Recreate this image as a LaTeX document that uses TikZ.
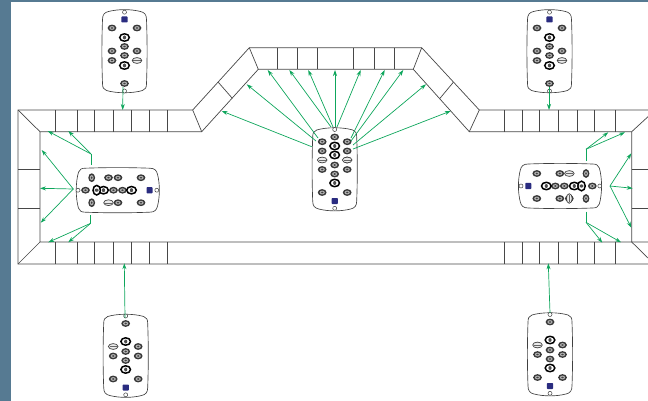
\documentclass[tikz,border=0pt]{standalone}
\usepackage{xcolor}
\usetikzlibrary{arrows.meta}
\definecolor{sidebar}{RGB}{86,122,146}
\definecolor{raygreen}{RGB}{14,166,92}
\definecolor{lcd}{RGB}{42,44,128}
\tikzset{
    wall/.style={draw=black!72, line width=0.7pt},
    ray/.style={draw=raygreen, line width=0.7pt, -{Stealth[length=6pt,width=4pt]}},
    stub/.style={draw=raygreen, line width=0.7pt},
    case/.style={draw=black!75, line width=0.65pt, fill=white},
    % one key of a remote, with its lighter middle
    keyone/.pic={
        \fill[black!78] (0,0) ellipse [x radius=4.4, y radius=3.4];
        \fill[black!30] (0,0) ellipse [x radius=2.6, y radius=1.9];
        \fill[black!75] (0,0) ellipse [x radius=1.3, y radius=0.9];
    },
    keybig/.pic={
        \draw[black, line width=1.5pt, fill=white] (0,0) ellipse [x radius=4.8, y radius=3.7];
        \fill[black!70] (0,0) ellipse [x radius=1.6, y radius=2];
    },
    keyflat/.pic={
        \draw[black!75, line width=0.7pt, fill=black!8] (0,0) ellipse [x radius=4.8, y radius=2.9];
        \draw[black!60, line width=0.4pt] (-3.6,0) -- (3.6,0);
    },
    remote/.pic={
        \draw[case] (-18,-39) .. controls (-8,-42) and (8,-42) .. (18,-39)
            .. controls (21,-38) and (22,-36) .. (22,-32)
            .. controls (22.8,-10) and (22.8,10) .. (22,32)
            .. controls (22,37) and (20,39) .. (16,40)
            .. controls (6,42.5) and (-6,42.5) .. (-16,40)
            .. controls (-20,39) and (-22,37) .. (-22,32)
            .. controls (-22.8,10) and (-22.8,-10) .. (-22,-32)
            .. controls (-22,-36) and (-21,-38) .. (-18,-39) -- cycle;
        \foreach \ky in {-32,-4,5} \pic at (0,\ky) {keyone};
        \foreach \ky in {-14,14} \pic at (0,\ky) {keybig};
        \foreach \kx/\ky in {12.5/-9,-12.5/0.5,12.5/0.5,-12.5/23.5,12.5/23.5} \pic at (\kx,\ky) {keyone};
        \pic at (-12.5,-9) {keyflat};
        \fill[lcd, rounded corners=0.8pt] (-3.2,29) rectangle (3.2,35);
        \draw[black!75, fill=white, line width=0.5pt] (0,-39.5) circle (2);
        \draw[black!75, fill=white, line width=0.5pt] (0,39.3) circle (2);
    },
}

\begin{document}
\begin{tikzpicture}[x=1pt, y=-1pt]
    \useasboundingbox (0,0) rectangle (648,401);
    \fill[sidebar] (0,0) rectangle (648,2.5);
    \fill[sidebar] (0,0) rectangle (11,401);

    % room outline
    \draw[wall] (648,110) -- (479.3,110) -- (421.7,47.7) -- (249.3,47.7) -- (192.7,110) -- (18,110) -- (18,264) -- (648,264);
    \draw[wall] (648,242) -- (40,242) -- (40,131.7) -- (201.7,131.7) -- (258.3,69.3) -- (413.3,69.3) -- (469.3,131.7) -- (631.7,131.7) -- (631.7,242);
    \draw[wall] (18,110) -- (40,131.7);
    \draw[wall] (18,264) -- (40,242);
    \draw[wall] (631.7,131.7) -- (648,116.7);
    \draw[wall] (631.7,242) -- (648,258);
    \draw[wall] (192.7,110) -- (201.7,131.7);
    \draw[wall] (249.3,47.7) -- (258.3,69.3);
    \draw[wall] (421.7,47.7) -- (413.3,69.3);
    \draw[wall] (479.3,110) -- (469.3,131.7);
    \draw[wall] (218.3,82.3) -- (232.3,98.3);
    \draw[wall] (453.3,82.3) -- (440,98.3);

    % wall panels
    \foreach \tx in {55.7,77,94.3,113.3,131.3,149.3,167} {
        \draw[wall] (\tx,110) -- (\tx,131.7);
        \draw[wall] (\tx,242) -- (\tx,264);
    }
    \foreach \tx in {504.3,522,539.7,558.3,577,594.3,615.7} {
        \draw[wall] (\tx,110) -- (\tx,131.7);
        \draw[wall] (\tx,242) -- (\tx,264);
    }
    \foreach \tx in {277.3,297.7,317.7,353.7,374.3,394.3}
        \draw[wall] (\tx,47.7) -- (\tx,69.3);
    \foreach \ty in {169,208.7} {
        \draw[wall] (18,\ty) -- (40,\ty);
        \draw[wall] (631.7,\ty) -- (648,\ty);
    }

    % remotes
    \pic[rotate=180] at (124.5,51.5) {remote};
    \pic[rotate=180] at (549.5,51.5) {remote};
    \pic at (125.7,355.5) {remote};
    \pic at (550,354) {remote};

    \pic at (334.7,169) {remote};
    \pic at (322.2,141.7) {keyone};
    \pic at (347.2,141.7) {keyone};
    \pic at (334.7,146) {keybig};
    \pic at (322.2,151) {keyone};
    \pic at (347.2,151) {keyone};
    \pic at (347.2,160) {keyflat};

    \pic[rotate=90] at (117.5,190.2) {remote};
    \pic[rotate=90] at (91.7,177.7) {keyone};
    \pic[rotate=90] at (91.7,202.7) {keyone};
    \pic[rotate=90] at (96.7,190.2) {keybig};

    \pic[rotate=-90] at (560.3,186) {remote};
    \pic[rotate=-90] at (586,173.5) {keyone};
    \pic[rotate=-90] at (586,198.5) {keyone};
    \pic[rotate=-90] at (581.5,186) {keybig};
    \pic[rotate=-90] at (569.3,198.5) {keyflat};

    % centre remote
    \coordinate (ca) at (311.7,146.7);
    \coordinate (cb) at (316,141);
    \coordinate (cc) at (318,138);
    \coordinate (cd) at (331,127);
    \coordinate (ce) at (333,127);
    \coordinate (cf) at (335,127);
    \coordinate (cg) at (337,127);
    \coordinate (ch) at (351,138);
    \coordinate (ci) at (351,141);
    \coordinate (cj) at (353,145);
    \coordinate (ck) at (353,149);
    \coordinate (ha) at (221.7,111);
    \coordinate (hb) at (246.7,84.3);
    \coordinate (hc) at (267.7,70);
    \coordinate (hd) at (289.3,70);
    \coordinate (he) at (308.3,70);
    \coordinate (hf) at (335,70);
    \coordinate (hg) at (360.7,70);
    \coordinate (hh) at (384.7,70);
    \coordinate (hi) at (403.3,70);
    \coordinate (hj) at (426,84.3);
    \coordinate (hk) at (450.7,111);
    \foreach \n in {a,b,c,d,e,f,g,h,i,j,k}
        \draw[ray] (c\n) -- (h\n);

    % corner remotes
    \coordinate (tla) at (123,87);
    \coordinate (tlb) at (122.7,110);
    \coordinate (tra) at (549,87);
    \coordinate (trb) at (549,110);
    \coordinate (bla) at (125,318);
    \coordinate (blb) at (124.3,263.3);
    \coordinate (bra) at (550,313);
    \coordinate (brb) at (548.3,263.3);
    \draw[ray] (tla) -- (tlb);
    \draw[ray] (tra) -- (trb);
    \draw[ray] (bla) -- (blb);
    \draw[ray] (bra) -- (brb);

    % left remote
    \coordinate (lup) at (91,165);
    \coordinate (lupf) at (91,154);
    \coordinate (lmid) at (73.3,189);
    \coordinate (ldn) at (90.7,215);
    \coordinate (ldnf) at (90.7,223.3);
    \coordinate (la) at (47.7,131);
    \coordinate (lb) at (68.3,131);
    \coordinate (lc) at (41.7,150);
    \coordinate (ld) at (40,188.3);
    \coordinate (le) at (40.7,222.7);
    \coordinate (lf) at (48.3,242.3);
    \coordinate (lg) at (68.3,242.3);
    \draw[stub] (lup) -- (lupf);
    \draw[stub] (ldn) -- (ldnf);
    \draw[ray] (lupf) -- (la);
    \draw[ray] (lupf) -- (lb);
    \draw[ray] (lmid) -- (lc);
    \draw[ray] (lmid) -- (ld);
    \draw[ray] (lmid) -- (le);
    \draw[ray] (ldnf) -- (lf);
    \draw[ray] (ldnf) -- (lg);

    % right remote
    \coordinate (rup) at (586,160.7);
    \coordinate (rupf) at (586,149.3);
    \coordinate (rmid) at (610,186);
    \coordinate (rdn) at (586,211.7);
    \coordinate (rdnf) at (586,222.3);
    \coordinate (ra) at (625,132.3);
    \coordinate (rb) at (608.3,132.3);
    \coordinate (rc) at (631.3,153.3);
    \coordinate (rd) at (632.7,188.3);
    \coordinate (re) at (631.3,227.7);
    \coordinate (rf) at (602.3,242.7);
    \coordinate (rg) at (621,242.3);
    \draw[stub] (rup) -- (rupf);
    \draw[stub] (rdn) -- (rdnf);
    \draw[ray] (rupf) -- (ra);
    \draw[ray] (rupf) -- (rb);
    \draw[ray] (rmid) -- (rc);
    \draw[ray] (rmid) -- (rd);
    \draw[ray] (rmid) -- (re);
    \draw[ray] (rdnf) -- (rf);
    \draw[ray] (rdnf) -- (rg);
\end{tikzpicture}
\end{document}
